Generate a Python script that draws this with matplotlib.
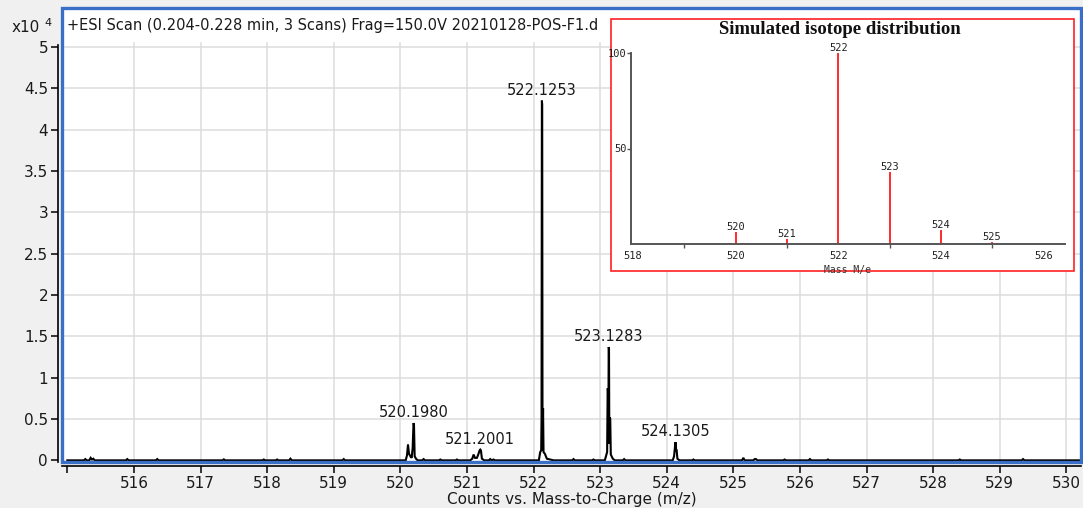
import matplotlib
matplotlib.use("Agg")
import matplotlib.pyplot as plt
from matplotlib.patches import Rectangle
from matplotlib.ticker import FixedLocator

# ---------------- data ----------------
# profile trace (m/z, counts x1e4)
trace_mz = [
    515.00, 515.25, 515.27, 515.29, 515.33, 515.35, 515.37, 515.39, 515.41,
    515.88, 515.90, 515.92, 516.33, 516.35, 516.37, 517.33, 517.35, 517.37,
    517.93, 517.95, 517.97, 518.13, 518.15, 518.17, 518.33, 518.35, 518.37,
    519.13, 519.15, 519.17,
    520.08, 520.10, 520.115, 520.13, 520.15, 520.17, 520.185, 520.198, 520.205, 520.215, 520.235, 520.26,
    520.33, 520.35, 520.37, 520.58, 520.60, 520.62, 520.83, 520.85, 520.87,
    521.05, 521.08, 521.10, 521.12, 521.15, 521.17, 521.19, 521.2001, 521.21, 521.225, 521.26,
    521.33, 521.35, 521.37, 521.40, 521.42,
    522.08, 522.10, 522.115, 522.12, 522.1253, 522.13, 522.135, 522.143, 522.15, 522.17, 522.20, 522.25, 522.30,
    522.58, 522.60, 522.62, 522.88, 522.90, 522.92,
    523.07, 523.09, 523.105, 523.113, 523.118, 523.123, 523.1283, 523.133, 523.138, 523.145, 523.152, 523.16, 523.19, 523.22,
    523.34, 523.36, 523.38,
    524.09, 524.11, 524.1305, 524.136, 524.141, 524.149, 524.16, 524.19,
    524.38, 524.40, 524.42, 525.13, 525.15, 525.17, 525.30, 525.32, 525.34, 525.36,
    525.75, 525.77, 525.79, 526.13, 526.15, 526.17, 526.40, 526.42, 526.44,
    528.38, 528.40, 528.42, 529.33, 529.35, 529.37, 530.30,
]
trace_counts = [
    0.0, 0.0, 0.015, 0.0, 0.0, 0.03, 0.01, 0.02, 0.0,
    0.0, 0.015, 0.0, 0.0, 0.015, 0.0, 0.0, 0.012, 0.0,
    0.0, 0.01, 0.0, 0.0, 0.01, 0.0, 0.0, 0.02, 0.0,
    0.0, 0.015, 0.0,
    0.0, 0.06, 0.19, 0.08, 0.05, 0.03, 0.15, 0.45, 0.43, 0.05, 0.02, 0.0,
    0.0, 0.015, 0.0, 0.0, 0.01, 0.0, 0.0, 0.01, 0.0,
    0.0, 0.02, 0.07, 0.03, 0.03, 0.07, 0.12, 0.13, 0.12, 0.02, 0.0,
    0.0, 0.015, 0.0, 0.01, 0.0,
    0.0, 0.10, 0.12, 0.5, 4.35, 4.3, 0.12, 0.63, 0.10, 0.08, 0.02, 0.01, 0.0,
    0.0, 0.015, 0.0, 0.0, 0.01, 0.0,
    0.0, 0.06, 0.10, 0.87, 0.85, 0.2, 1.37, 1.35, 0.2, 0.52, 0.50, 0.07, 0.02, 0.0,
    0.0, 0.015, 0.0,
    0.0, 0.05, 0.22, 0.20, 0.12, 0.12, 0.02, 0.0,
    0.0, 0.01, 0.0, 0.0, 0.03, 0.0, 0.0, 0.015, 0.015, 0.0,
    0.0, 0.01, 0.0, 0.0, 0.015, 0.0, 0.0, 0.01, 0.0,
    0.0, 0.01, 0.0, 0.0, 0.015, 0.0, 0.0,
]

# labelled peaks
peak_mz = [520.1980, 521.2001, 522.1253, 523.1283, 524.1305]
peak_counts = [0.45, 0.13, 4.35, 1.37, 0.22]
peak_labels = ["520.1980", "521.2001", "522.1253", "523.1283", "524.1305"]

x_ticks = list(range(515, 531))
x_ticklabels = [""] + [str(v) for v in range(516, 531)]
y_ticks = [0, 0.5, 1, 1.5, 2, 2.5, 3, 3.5, 4, 4.5, 5]
y_ticklabels = ["0", "0.5", "1", "1.5", "2", "2.5", "3", "3.5", "4", "4.5", "5"]

# simulated isotope pattern (relative abundance, %)
sim_mass = [520, 521, 522, 523, 524, 525]
sim_abund = [6.5, 2.6, 100, 37.5, 7.2, 1.0]
sim_xticks = [518, 520, 522, 524, 526]

header = "+ESI Scan (0.204-0.228 min, 3 Scans) Frag=150.0V 20210128-POS-F1.d"

# ---------------- figure ----------------
W, H = 1083, 508
fig = plt.figure(figsize=(W / 100, H / 100), dpi=100, facecolor="#f0f0f0")
plt.rcParams["font.family"] = ["DejaVu Sans"]

def fx(px):
    return px / W

def fy(py):
    return 1 - py / H

ax_l, ax_r, ax_t, ax_b = 62, 1081, 8, 462
ax = fig.add_axes([fx(ax_l), fy(ax_b), fx(ax_r - ax_l), fy(ax_t) - fy(ax_b)])
ax.set_facecolor("white")
xmin, xmax = 514.92, 530.22
ymin, ymax = -0.02, 5.47
ax.set_xlim(xmin, xmax)
ax.set_ylim(ymin, ymax)

grid_c = "#dcdcdc"
for v in range(516, 531):
    ax.plot([v, v], [ymin, 5.05], color=grid_c, lw=1.1, zorder=1)
for v in y_ticks[1:]:
    ax.plot([xmin + 0.05, xmax], [v, v], color=grid_c, lw=1.1, zorder=1)

ax.plot(trace_mz, trace_counts, color="black", lw=1.5, zorder=3, solid_joinstyle="miter")

for mz, h, lab in zip(peak_mz, peak_counts, peak_labels):
    ax.annotate(lab, (mz, h), xytext=(0, 2), textcoords="offset points",
                ha="center", va="bottom", fontsize=10.5, color="#1a1a1a", zorder=4)

ax.text(0.005, (ymax - 0.21 - ymin) / (ymax - ymin), header, transform=ax.transAxes,
        fontsize=10.5, color="#1a1a1a", ha="left", va="center")

for s in ["top", "right"]:
    ax.spines[s].set_visible(False)
for s in ["left", "bottom"]:
    ax.spines[s].set_color("black")
    ax.spines[s].set_linewidth(1.2)
    ax.spines[s].set_position(("outward", 3))
ax.spines["left"].set_bounds(ymin, 5.02)

ax.xaxis.set_major_locator(FixedLocator(x_ticks))
ax.set_xticklabels(x_ticklabels)
ax.yaxis.set_major_locator(FixedLocator(y_ticks))
ax.set_yticklabels(y_ticklabels)
ax.tick_params(axis="both", direction="out", length=5, width=1.1, labelsize=11,
               colors="black", labelcolor="#1a1a1a", pad=2)

ax.set_xlabel("Counts vs. Mass-to-Charge (m/z)", fontsize=11, color="#1a1a1a", labelpad=1)

# blue frame around plotting area
ax.add_patch(Rectangle((0, 0), 1, 1, transform=ax.transAxes, fill=False,
                       edgecolor="#3a6fc8", lw=2.4, clip_on=False, zorder=5))

fig.text(fx(12), fy(28), "x10", fontsize=11, ha="left", va="center", color="#1a1a1a")
fig.text(fx(44), fy(23), "4", fontsize=8, ha="left", va="center", color="#1a1a1a")

# ---------------- inset: simulated isotope distribution ----------------
box = Rectangle((fx(611), fy(271)), fx(1074 - 611), fy(19) - fy(271),
                transform=fig.transFigure, facecolor="white", edgecolor="#ff2020",
                lw=1.2, zorder=10)
fig.patches.append(box)

in_l, in_r, in_b, in_t = 631, 1065, 244, 53
ins = fig.add_axes([fx(in_l), fy(in_b), fx(in_r - in_l), fy(in_t) - fy(in_b)], zorder=11)
ins.patch.set_alpha(0)
ins.set_xlim(517.96, 526.42)
ins.set_ylim(0, 100)
ins.vlines(sim_mass, 0, sim_abund, color="#ff1a1a", lw=1.3)
mono = "DejaVu Sans Mono"
for m, a in zip(sim_mass, sim_abund):
    ins.text(m, a, str(m), ha="center", va="bottom", fontsize=7.5, family=mono,
             color="#222222")
for s in ["top", "right"]:
    ins.spines[s].set_visible(False)
for s in ["left", "bottom"]:
    ins.spines[s].set_color("#555555")
    ins.spines[s].set_linewidth(1.4)
ins.xaxis.set_major_locator(FixedLocator(sim_xticks))
ins.xaxis.set_minor_locator(FixedLocator([519, 521, 523, 525]))
ins.set_xticklabels([str(v) for v in sim_xticks], family=mono, fontsize=7.5, color="#222222")
ins.tick_params(axis="x", which="major", length=0, pad=5)
ins.tick_params(axis="x", which="minor", length=3, width=1, color="#555555", direction="out")
ins.yaxis.set_major_locator(FixedLocator([50, 100]))
ins.set_yticklabels(["50", "100"], family=mono, fontsize=7.5, color="#222222")
ins.tick_params(axis="y", length=3, width=1, color="#555555", direction="out", pad=0)
ins.set_xlabel("Mass M/e", family=mono, fontsize=7, color="#333333", labelpad=3)

fig.text(fx(840), fy(30), "Simulated isotope distribution", family="Liberation Serif",
         fontweight="bold", fontsize=13.5, ha="center", va="center", color="#111111", zorder=12)

fig.savefig("out.png", dpi=100, facecolor=fig.get_facecolor())
